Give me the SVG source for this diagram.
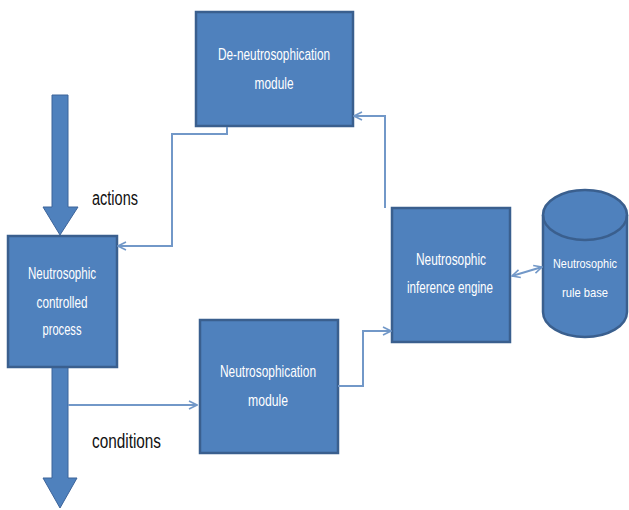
<svg xmlns="http://www.w3.org/2000/svg" width="629" height="510" viewBox="0 0 629 510">
<defs>
<style>
.box{fill:#4F81BD;stroke:#3A5F8E;stroke-width:2.5}
.big{fill:#4F81BD;stroke:#3D649A;stroke-width:1}
.wt{fill:#FFFFFF;font-family:"Liberation Sans Narrow","Liberation Sans",sans-serif;font-size:17px;text-anchor:middle}
.sm{font-size:13px}
.bt{fill:#111111;font-family:"Liberation Sans Narrow","Liberation Sans",sans-serif;font-size:20px}
.con{fill:none;stroke:#7298C8;stroke-width:2}
</style>
<marker id="ah" viewBox="0 0 10 10" refX="9" refY="5" markerWidth="10" markerHeight="10" markerUnits="userSpaceOnUse" orient="auto-start-reverse">
<path d="M1,1 L9,5 L1,9" fill="none" stroke="#7298C8" stroke-width="1.6"/>
</marker>
</defs>
<g id="arrow-actions">
<polygon class="big" points="52,95 68,95 68,207 78,207 60,235 43,207 52,207"/>
</g>
<g id="arrow-conditions">
<polygon class="big" points="52,367 68,367 68,478 77,478 60,508 43,478 52,478"/>
</g>
<g id="process">
<rect class="box" x="8" y="236" width="109" height="131"/>
<text class="wt" x="62" y="279" textLength="68" lengthAdjust="spacingAndGlyphs">Neutrosophic</text>
<text class="wt" x="62" y="308" textLength="51" lengthAdjust="spacingAndGlyphs">controlled</text>
<text class="wt" x="62" y="335" textLength="39" lengthAdjust="spacingAndGlyphs">process</text>
</g>
<g id="deneutro">
<rect class="box" x="196" y="12" width="157" height="114"/>
<text class="wt" x="274" y="60" textLength="112" lengthAdjust="spacingAndGlyphs">De-neutrosophication</text>
<text class="wt" x="274" y="89" textLength="39" lengthAdjust="spacingAndGlyphs">module</text>
</g>
<g id="neutro">
<rect class="box" x="200" y="320" width="138" height="133"/>
<text class="wt" x="268" y="377" textLength="96" lengthAdjust="spacingAndGlyphs">Neutrosophication</text>
<text class="wt" x="268" y="406" textLength="40" lengthAdjust="spacingAndGlyphs">module</text>
</g>
<g id="engine">
<rect class="box" x="392" y="208" width="118" height="134"/>
<text class="wt" x="451" y="265" textLength="70" lengthAdjust="spacingAndGlyphs">Neutrosophic</text>
<text class="wt" x="450" y="293" textLength="86" lengthAdjust="spacingAndGlyphs">inference engine</text>
</g>
<g id="rulebase">
<path class="box" d="M543,215 L543,312 A42,25 0 0 0 627,312 L627,215 A42,25 0 0 0 543,215 Z"/>
<path fill="none" stroke="#3A5F8E" stroke-width="2.5" d="M543,215 A42,25 0 0 0 627,215"/>
<text class="wt sm" x="585" y="268" textLength="64" lengthAdjust="spacingAndGlyphs">Neutrosophic</text>
<text class="wt sm" x="585" y="297" textLength="46" lengthAdjust="spacingAndGlyphs">rule base</text>
</g>
<g id="labels">
<text class="bt" x="92" y="205" textLength="46" lengthAdjust="spacingAndGlyphs">actions</text>
<text class="bt" x="92" y="448" textLength="69" lengthAdjust="spacingAndGlyphs">conditions</text>
</g>
<g id="connectors">
<polyline class="con" points="227,127 227,134 172,134 172,246 118,246" marker-end="url(#ah)"/>
<polyline class="con" points="385,208 385,116 354,116" marker-end="url(#ah)"/>
<polyline class="con" points="68,405 197,405" marker-end="url(#ah)"/>
<polyline class="con" points="338,386 363,386 363,331 391,331" marker-end="url(#ah)"/>
<line class="con" x1="512" y1="276" x2="542" y2="267" marker-start="url(#ah)" marker-end="url(#ah)"/>
</g>
</svg>
